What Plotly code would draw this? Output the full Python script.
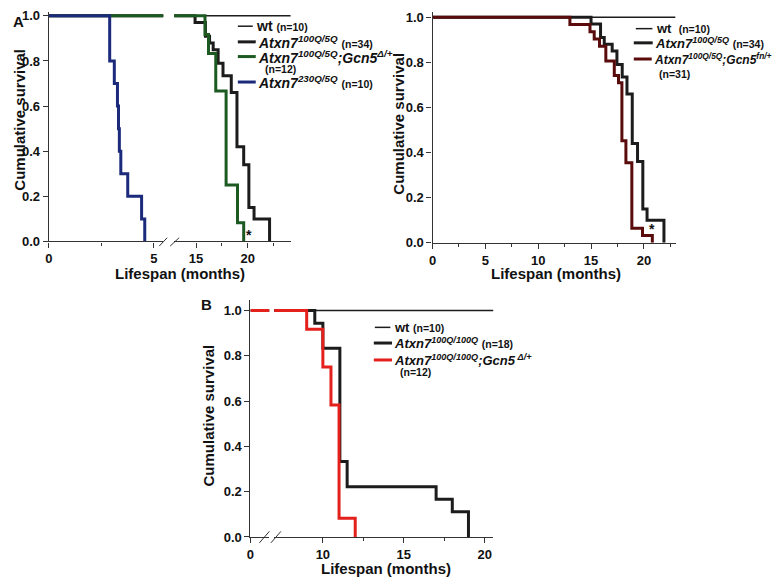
import plotly.graph_objects as go

W, H = 780, 582
# the page body adds an 8px margin round the figure; positions below are
# given in window pixels and shifted by this offset
OX, OY = 8, 8

# ---------------- data ----------------
# Panel A, left: Atxn7 100Q/5Q vs Gcn5 del/+ and 230Q/5Q (broken x axis)
al_wt_t = [0, 24.5]
al_wt_s = [1.0, 1.0]
al_100_t = [0, 14.9, 15.9, 16.3, 16.65, 17.13, 17.6, 18.4, 18.95, 19.6, 20.1, 20.6, 22.1]
al_100_s = [1.0, 0.97, 0.91, 0.88, 0.85, 0.79, 0.735, 0.66, 0.42, 0.34, 0.15, 0.10, 0.0]
al_gcn_t = [0, 15.86, 16.2, 16.9, 17.9, 19.0, 19.6]
al_gcn_s = [1.0, 0.917, 0.833, 0.667, 0.25, 0.083, 0.0]
al_230_t = [0, 2.9, 3.12, 3.27, 3.32, 3.36, 3.43, 3.76, 4.42, 4.57]
al_230_s = [1.0, 0.8, 0.7, 0.6, 0.5, 0.4, 0.3, 0.2, 0.1, 0.0]

# Panel A, right: Atxn7 100Q/5Q vs Gcn5 fn/+
ar_wt_t = [0, 23.0]
ar_wt_s = [1.0, 1.0]
ar_100_t = [0, 15.0, 15.9, 16.25, 17.0, 17.45, 17.95, 18.4, 18.9, 19.4, 19.9, 20.3, 21.9]
ar_100_s = [1.0, 0.97, 0.91, 0.88, 0.85, 0.79, 0.735, 0.66, 0.44, 0.36, 0.15, 0.10, 0.0]
ar_fn_t = [0, 13.0, 14.9, 15.3, 15.8, 16.4, 17.2, 17.6, 17.92, 18.3, 18.86, 19.87, 20.8]
ar_fn_s = [1.0, 0.968, 0.935, 0.903, 0.871, 0.806, 0.742, 0.71, 0.452, 0.355, 0.065, 0.032, 0.0]

# Panel B: Atxn7 100Q/100Q vs Gcn5 del/+
b_wt_t = [0, 20.6]
b_wt_s = [1.0, 1.0]
b_100_t = [0, 9.5, 10.0, 11.05, 11.5, 17.0, 18.0, 19.0]
b_100_s = [1.0, 0.944, 0.833, 0.333, 0.222, 0.167, 0.111, 0.0]
b_gcn_t = [0, 9.0, 10.0, 10.5, 11.0, 12.0]
b_gcn_s = [1.0, 0.917, 0.75, 0.583, 0.083, 0.0]

y_ticks = [0.0, 0.2, 0.4, 0.6, 0.8, 1.0]

# ---------------- styling ----------------
BLACK = "#1c1c1c"
GREEN = "#1d5a22"
BLUE = "#1b2a7a"
MAROON = "#5a0c0c"
RED = "#e3201b"
FONT = "Liberation Sans"


def px(x):
    return (x - OX) / W


def py(y):
    return 1 - (y - OY) / H


fig = go.Figure()


def km(t, s, color, width, axes):
    for xa, ya in axes:
        fig.add_trace(go.Scatter(
            x=t, y=s, mode="lines", xaxis=xa, yaxis=ya,
            line=dict(color=color, width=width, shape="hv"),
            showlegend=False, hoverinfo="skip"))


AL = [("x", "y"), ("x2", "y")]
AR = [("x3", "y2")]
BB = [("x4", "y3"), ("x5", "y3")]

km(al_wt_t, al_wt_s, BLACK, 1.5, AL)
km(al_100_t, al_100_s, BLACK, 3, AL)
km(al_gcn_t, al_gcn_s, GREEN, 3, AL)
km(al_230_t, al_230_s, BLUE, 3, AL)

km(ar_wt_t, ar_wt_s, BLACK, 1.5, AR)
km(ar_100_t, ar_100_s, BLACK, 3, AR)
km(ar_fn_t, ar_fn_s, MAROON, 3, AR)

km(b_wt_t, b_wt_s, BLACK, 1.5, BB)
km(b_100_t, b_100_s, BLACK, 3, BB)
km(b_gcn_t, b_gcn_s, RED, 3, BB)

tickfont = dict(family=FONT, size=13, color="#111", weight="bold")


def xax(dom, rng, anchor, tv, minor_tv):
    d = dict(domain=[px(dom[0]), px(dom[1])], range=rng, anchor=anchor,
             showline=True, linecolor="#333", linewidth=1.2,
             ticks="outside", ticklen=5, tickwidth=1.2, tickcolor="#333",
             tickmode="array", tickvals=tv, showgrid=False, zeroline=False,
             tickfont=tickfont, fixedrange=True, ticklabeloverflow="allow")
    if minor_tv:
        d["minor"] = dict(tickmode="array", tickvals=minor_tv, ticks="outside",
                          ticklen=3, tickwidth=1, tickcolor="#333", showgrid=False)
    return d


def yax(dom, rng, anchor):
    return dict(domain=[py(dom[1]), py(dom[0])], range=rng, anchor=anchor,
                showline=True, linecolor="#333", linewidth=1.2,
                ticks="outside", ticklen=5, tickwidth=1.2, tickcolor="#333",
                tickmode="array", tickvals=y_ticks, tickformat=".1f",
                showgrid=False, zeroline=False, tickfont=tickfont,
                fixedrange=True, ticklabeloverflow="allow")


fig.update_layout(
    width=W, height=H, margin=dict(l=0, r=0, t=0, b=0),
    paper_bgcolor="white", plot_bgcolor="white",
    xaxis=xax((45, 160), [0, 5.45], "y", [0, 5], [2.5]),
    xaxis2=xax((171, 288), [12.88, 24.13], "y", [15, 20], [17.5, 22.5]),
    yaxis=yax((8, 242.3), [0, 1.017], "x"),
    xaxis3=xax((430.7, 675), [0, 23], "y2", [0, 5, 10, 15, 20], [2.5, 7.5, 12.5, 17.5, 22.5]),
    yaxis2=yax((8, 243.7), [0, 1.023], "x3"),
    xaxis4=xax((247.7, 266.5), [0, 1.156], "y3", [0], None),
    xaxis5=xax((271.7, 491.7), [7, 20.53], "y3", [10, 15, 20], [12.5, 17.5]),
    yaxis3=yax((301.7, 544), [0, 1.048], "x4"),
)

ann = []


def text(x, y, s, size=13, xanchor="left", angle=0, yanchor="middle"):
    ann.append(dict(x=px(x), y=py(y), xref="paper", yref="paper", text=s,
                    showarrow=False, xanchor=xanchor, yanchor=yanchor,
                    textangle=angle, borderpad=0,
                    font=dict(family=FONT, size=size, color="#111")))


shapes = []


def seg(x0, y0, x1, y1, color, width):
    shapes.append(dict(type="line", xref="paper", yref="paper",
                       x0=px(x0), y0=py(y0), x1=px(x1), y1=py(y1),
                       line=dict(color=color, width=width)))


# axis titles
text(16, 118, "<b>Cumulative survival</b>", 15, "center", -90)
text(177, 275, "<b>Lifespan (months)</b>", 15, "center")
text(397, 122, "<b>Cumulative survival</b>", 15, "center", -90)
text(555, 275, "<b>Lifespan (months)</b>", 15, "center")
text(206, 420, "<b>Cumulative survival</b>", 15, "center", -90)
text(384, 576, "<b>Lifespan (months)</b>", 15, "center")

# panel letters
text(8.5, 8, "<b>A</b>", 15, "left", yanchor="top")
text(203, 307, "<b>B</b>", 15, "center")

# significance stars
text(246, 236, "<b>*</b>", 14, "center")
text(651, 230, "<b>*</b>", 14, "center")

# axis break marks
seg(156, 247, 164, 238.5, "#333", 1)
seg(167, 247, 176, 238.5, "#333", 1)
seg(256.7, 550, 266.7, 538.3, "#333", 1)
seg(268.3, 550, 278.3, 538.3, "#333", 1)


def small(s, size=10.5):
    return "<span style='font-size:%spx'>%s</span>" % (size, s)


# legend, panel A left
seg(235, 22.5, 250, 22.5, BLACK, 1.5)
text(252, 22.5, "<b>wt " + small("(n=10)") + "</b>", 14)
seg(235, 38.5, 253, 38.5, BLACK, 3)
text(254, 38.5, "<b><i>Atxn7<sup>100Q/5Q</sup></i> " + small("(n=34)") + "</b>", 14)
seg(235, 53.5, 253, 53.5, GREEN, 3)
text(254, 53.5, "<b><i>Atxn7<sup>100Q/5Q</sup>;Gcn5<sup>Δ/+</sup></i></b>", 14)
text(261, 66.5, "<b>(n=12)</b>", 10.5)
seg(235, 79.5, 253, 79.5, BLUE, 3)
text(254, 79.5, "<b><i>Atxn7<sup>230Q/5Q</sup></i> " + small("(n=10)") + "</b>", 14)

# legend, panel A right
seg(635, 25, 651.7, 25, BLACK, 1.5)
text(654, 25, "<b>wt  " + small("(n=10)") + "</b>", 13)
seg(633, 39.5, 652, 39.5, BLACK, 3)
text(653, 39.5, "<b><i>Atxn7<sup>100Q/5Q</sup></i> " + small("(n=34)") + "</b>", 13)
seg(633, 56, 651, 56, MAROON, 3)
text(652, 56, "<b><i>Atxn7<sup>100Q/5Q</sup>;Gcn5<sup>fn/+</sup></i></b>", 12)
text(657, 71.5, "<b>(n=31)</b>", 10.5)

# legend, panel B
seg(372.7, 330, 388.3, 330, BLACK, 1.5)
text(390.5, 330, "<b>wt " + small("(n=10)") + "</b>", 13)
seg(371.7, 346, 390, 346, BLACK, 3)
text(391, 346, "<b><i>Atxn7<sup>100Q/100Q</sup></i> " + small("(n=18)") + "</b>", 13)
seg(371.7, 363.3, 390, 363.3, RED, 3)
text(391, 363.3, "<b><i>Atxn7<sup>100Q/100Q</sup>;Gcn5<sup> Δ/+</sup></i></b>", 13)
text(397, 376, "<b>(n=12)</b>", 10.5)

fig.update_layout(annotations=ann, shapes=shapes)

fig.write_html("out.html")
